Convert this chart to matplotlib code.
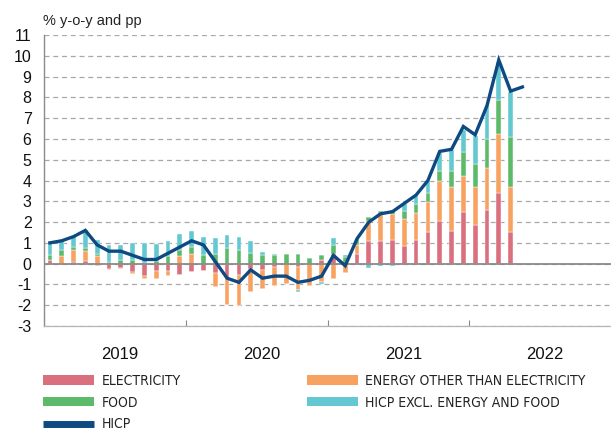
import matplotlib
matplotlib.use("Agg")
import matplotlib.pyplot as plt
import numpy as np
import pandas as pd
from matplotlib import font_manager
from matplotlib.font_manager import FontProperties
from matplotlib.lines import Line2D
from matplotlib.patches import Patch
from matplotlib.transforms import ScaledTranslation

# Monthly HICP (% y-o-y) and contributions of its components (pp), Jan 2019 - May 2022
months = pd.period_range("2019-01", "2022-05", freq="M")

electricity = [0.17, 0.00, 0.06, 0.13, -0.13, -0.26, -0.21, -0.42, -0.61, -0.34, -0.34, -0.55,
               -0.39, -0.35, -0.45, -0.69, -0.55, -0.24, -0.31, -0.18, 0.00, -0.16, 0.00, 0.19,
               0.47, 0.00, 0.47, 1.10, 1.08, 1.15, 0.86, 1.15, 1.50, 2.04, 1.57, 2.48,
               1.88, 2.60, 3.39, 1.52]
energy_other = [0.00, 0.35, 0.58, 0.50, 0.35, -0.05, -0.05, -0.10, -0.13, -0.40, -0.24, 0.35,
                0.45, 0.00, -0.65, -1.31, -1.51, -1.11, -0.92, -0.88, -1.00, -1.10, -1.06, -0.90,
                -0.74, -0.47, 0.43, 0.96, 1.38, 1.23, 1.31, 1.31, 1.47, 1.96, 2.10, 1.72,
                1.79, 2.02, 2.86, 2.19]
food = [0.23, 0.30, 0.18, 0.14, 0.09, 0.10, 0.19, 0.19, 0.05, 0.15, 0.35, 0.33,
        0.37, 0.42, 0.47, 0.76, 0.68, 0.52, 0.42, 0.42, 0.45, 0.45, 0.26, 0.23,
        0.43, 0.31, 0.29, 0.16, 0.09, 0.20, 0.37, 0.41, 0.42, 0.47, 0.80, 1.15,
        1.14, 1.37, 1.63, 2.36]
core = [0.62, 0.48, 0.50, 0.86, 0.71, 0.80, 0.73, 0.81, 0.95, 0.80, 0.73, 0.74,
        0.74, 0.85, 0.77, 0.63, 0.59, 0.59, 0.13, 0.06, 0.00, -0.09, 0.00, -0.10,
        0.33, 0.11, 0.00, -0.22, -0.10, -0.13, 0.31, 0.38, 0.58, 0.85, 1.01, 1.09,
        1.31, 1.65, 1.83, 2.20]
hicp = [1.0, 1.1, 1.3, 1.6, 0.9, 0.6, 0.6, 0.4, 0.2, 0.2, 0.5, 0.8,
        1.1, 0.9, 0.1, -0.7, -0.9, -0.3, -0.7, -0.6, -0.6, -0.9, -0.8, -0.6,
        0.4, -0.1, 1.2, 2.0, 2.4, 2.5, 2.9, 3.3, 4.0, 5.4, 5.5, 6.6,
        6.2, 7.6, 9.8, 8.3, 8.5]
years = ["2019", "2020", "2021", "2022"]

component_labels = ["ELECTRICITY", "ENERGY OTHER THAN ELECTRICITY", "FOOD",
                    "HICP EXCL. ENERGY AND FOOD"]
component_colors = ["#da6f7e", "#f8a262", "#5dba6b", "#63c8d1"]
line_color = "#0e4a81"
hicp_label = "HICP"

plt.rcParams["font.family"] = ["Liberation Sans", "DejaVu Sans"]
plt.rcParams["axes.unicode_minus"] = False

installed = {f.name for f in font_manager.fontManager.ttflist}
if "Liberation Sans Narrow" in installed:
    legend_font = FontProperties(family="Liberation Sans Narrow", size=10.5)
else:
    legend_font = FontProperties(family="DejaVu Sans", stretch="condensed", size=10)

W, H = 611, 432
fig = plt.figure(figsize=(W / 100, H / 100), dpi=100)
ax = fig.add_axes([44 / W, 1 - 326 / H, 1 - 44 / W, (326 - 35) / H])

# month index relative to Jan 2019
x = np.array([(m - months[0]).n for m in months])
bar_x = x[:len(electricity)]

pos_base = np.zeros(len(bar_x))
neg_base = np.zeros(len(bar_x))
for vals, color in zip([electricity, energy_other, food, core], component_colors):
    v = np.asarray(vals, dtype=float)
    pos = np.where(v > 0, v, 0.0)
    neg = np.where(v < 0, v, 0.0)
    ax.bar(bar_x, pos, 0.4, bottom=pos_base, color=color, edgecolor="white",
           linewidth=0.3, zorder=2)
    ax.bar(bar_x, neg, 0.4, bottom=neg_base, color=color, edgecolor="white",
           linewidth=0.3, zorder=2)
    pos_base += pos
    neg_base += neg

ax.axhline(0, color="#8a8a8a", lw=1.3, zorder=3)
ax.plot(x, hicp, color=line_color, lw=2.4, zorder=4, solid_joinstyle="miter")

ax.set_xlim(-0.5, 47.5)
ax.set_ylim(-3, 11)
ax.set_yticks(range(-3, 12))
ax.yaxis.grid(True, linestyle=(0, (4, 3)), color="#a8a8a8", lw=0.9)
ax.set_axisbelow(True)
ax.tick_params(axis="y", length=0, pad=9, labelsize=11.5, labelcolor="#111111")

for side in ("top", "right"):
    ax.spines[side].set_visible(False)
ax.spines["left"].set_color("#8a8a8a")
ax.spines["bottom"].set_color("#b5b5b5")
ax.spines["left"].set_linewidth(1.0)
ax.spines["bottom"].set_linewidth(0.9)

ax.set_xticks([11.5, 23.5, 35.5])
ax.set_xticklabels([])
ax.tick_params(axis="x", which="major", direction="in", length=4, color="#8a8a8a")
ax.set_xticks([5.5 + 12 * i for i in range(len(years))], minor=True)
ax.set_xticklabels(years, minor=True)
ax.tick_params(axis="x", which="minor", length=0, pad=15, labelsize=12, labelcolor="#111111")
shift = ScaledTranslation(5 / 100, 0, fig.dpi_scale_trans)
for lbl in ax.get_xticklabels(minor=True):
    lbl.set_transform(lbl.get_transform() + shift)

fig.text(43 / W, 1 - 21 / H, "% y-o-y and pp", ha="left", va="center",
         fontsize=10.5, color="#222222")

h_elec = Patch(facecolor=component_colors[0])
h_energy = Patch(facecolor=component_colors[1])
h_food = Patch(facecolor=component_colors[2])
h_core = Patch(facecolor=component_colors[3])
h_hicp = Line2D([], [], color=line_color, lw=5, solid_capstyle="butt")

common = dict(loc="upper left", frameon=False, borderpad=0, borderaxespad=0,
              handlelength=3.7, handleheight=0.65, handletextpad=0.5,
              labelspacing=0.55, prop=legend_font, labelcolor="#222222")
fig.legend([h_elec, h_food, h_hicp],
           [component_labels[0], component_labels[2], hicp_label],
           bbox_to_anchor=(43 / W, 1 - 374 / H), **common)
fig.legend([h_energy, h_core],
           [component_labels[1], component_labels[3]],
           bbox_to_anchor=(307 / W, 1 - 374 / H), **common)

fig.savefig("out.png", dpi=100)
